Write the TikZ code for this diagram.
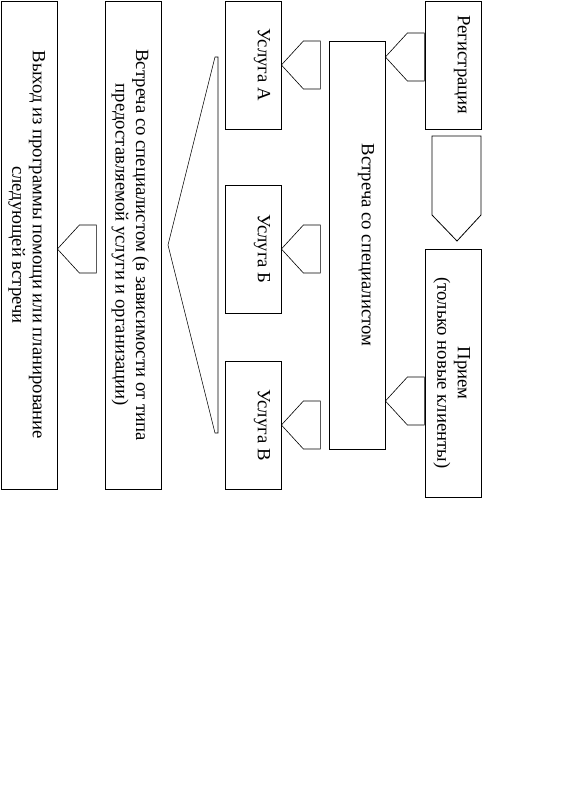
\documentclass[tikz,border=0pt]{standalone}
\usepackage{fontspec}
\setmainfont{Liberation Serif}

\tikzset{
  blk/.style={draw, line width=0.8pt, inner sep=0pt, minimum width=56pt},
  lbl/.style={rotate=-90, anchor=north, inner sep=0pt, align=center,
    font=\fontsize{18.7}{20.5}\selectfont},
  lbl1/.style={lbl, text height=12.4pt},
  conn/.style={line width=0.6pt}
}
% left-pointing chevron, tip at #1
\newcommand{\chevron}[1]{\draw[conn] (#1) -- ++(22,-24) -- ++(17,0) -- ++(0,48) -- ++(-17,0) -- cycle;}

\begin{document}
\begin{tikzpicture}[x=1pt,y=-1pt]
    \useasboundingbox (0,0) rectangle (586,810);
    % boxes
    \node[blk, minimum height=488pt] (exit) at (29,245) {};
    \node[blk, minimum height=488pt] (dep) at (133,245) {};
    \node[blk, minimum height=128pt] (uA) at (253,65) {};
    \node[blk, minimum height=128pt] (uB) at (253,249) {};
    \node[blk, minimum height=128pt] (uV) at (253,425) {};
    \node[blk, minimum height=408pt] (meet) at (357,245) {};
    \node[blk, minimum height=128pt] (reg) at (453,65) {};
    \node[blk, minimum height=248pt] (priem) at (453,373) {};
    % texts
    \node[lbl] (exittxt) at ([xshift=-12pt]exit.east) {Выход из программы помощи или планирование\\следующей встречи};
    \node[lbl] (deptxt) at ([xshift=-12pt]dep.east) {Встреча со специалистом (в зависимости от типа\\предоставляемой услуги и организации)};
    \node[lbl1] (uAtxt) at ([xshift=-11pt]uA.east) {Услуга А};
    \node[lbl1] (uBtxt) at ([xshift=-11pt]uB.east) {Услуга Б};
    \node[lbl1] (uVtxt) at ([xshift=-11pt]uV.east) {Услуга В};
    \node[lbl1] (meettxt) at ([xshift=-11pt]meet.east) {Встреча со специалистом};
    \node[lbl1] (regtxt) at ([xshift=-11pt]reg.east) {Регистрация};
    \node[lbl] (priemtxt) at ([xshift=-11pt]priem.east) {Прием\\(только новые клиенты)};
    % down arrow between reg and priem
    \draw[line width=0.8pt] (432,136) -- (481,136) -- (481,215) -- (457,241) -- (432,215) -- cycle;
    % chevrons
    \chevron{meet.east |- 0,57}
    \chevron{meet.east |- 0,401}
    \chevron{uA.east}
    \chevron{uB.east}
    \chevron{uV.east}
    \chevron{exit.east |- uB.east}
    % wedge from the services to dep
    \draw[conn] (218,57) -- (215,57) -- (168,245) -- (215,433) -- (218,433) -- cycle;
\end{tikzpicture}
\end{document}
